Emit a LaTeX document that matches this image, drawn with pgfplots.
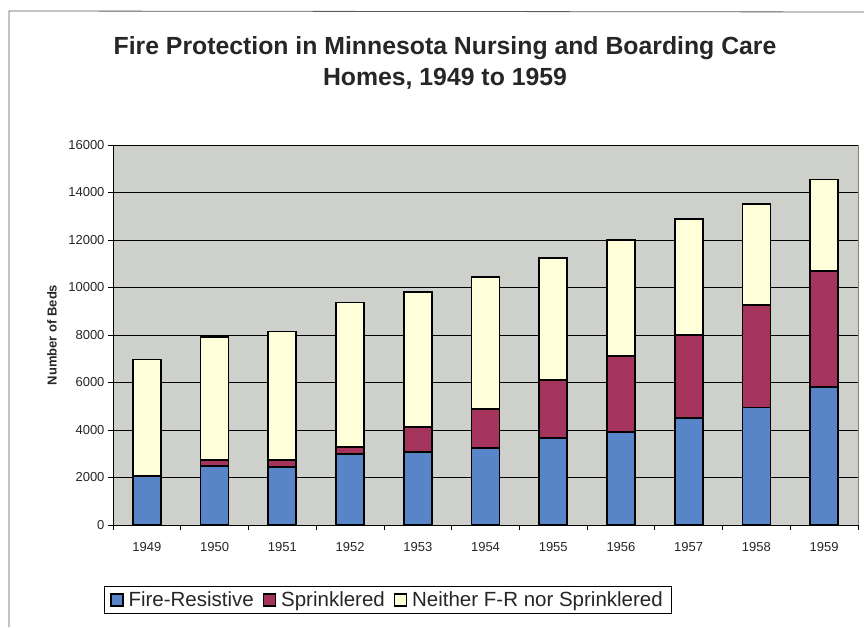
\documentclass[border=0pt]{standalone}
\usepackage{pgfplots}
\pgfplotsset{compat=1.18}
\usepackage{fontspec}
\setmainfont{Liberation Sans}
\definecolor{fr}{RGB}{88,132,200}
\definecolor{sp}{RGB}{165,52,92}
\definecolor{ne}{RGB}{255,255,218}
\definecolor{bg}{RGB}{206,208,204}
\begin{document}
\begin{tikzpicture}[x=1pt,y=1pt]
\path[use as bounding box] (0,0) rectangle (864,627);
\draw[gray!70!black, line width=0.8pt] (9,0) -- (9,616) -- (864,615);
\node[font=\fontsize{24.8}{31}\selectfont\bfseries, align=center, text=black!85] at (445,564) {Fire Protection in Minnesota Nursing and Boarding Care\\Homes, 1949 to 1959};
\begin{axis}[
  at={(113pt,102pt)}, anchor=south west,
  scale only axis, width=745pt, height=380pt,
  ybar stacked, bar width=28pt,
  xmin=-0.5, xmax=10.5, ymin=0, ymax=16000,
  xtick={0,...,10},
  xticklabels={1949,1950,1951,1952,1953,1954,1955,1956,1957,1958,1959},
  minor xtick={-0.5,0.5,...,10.5},
  ytick={0,2000,...,16000},
  scaled y ticks=false,
  yticklabel style={/pgf/number format/1000 sep={}},
  /pgf/number format/assume math mode=true,
  tick label style={font=\fontsize{13}{15}\selectfont, text=black!85},
  xticklabel style={yshift=-9pt},
  ylabel={Number of Beds},
  ylabel style={font=\fontsize{13}{15}\selectfont\bfseries, text=black!85, at={(axis description cs:-0.082,0.5)}, anchor=center},
  axis x line*=bottom, axis y line*=left,
  axis line style={black, line width=1pt},
  axis background/.style={fill=bg, draw=gray},
  ymajorgrids, grid style={black, line width=0.6pt},
  tick align=outside, major tick length=5pt, minor tick length=5pt,
  x tick style={draw=none}, minor x tick style={draw=black, line width=0.8pt},
  y tick style={black, line width=0.8pt},
  legend columns=3,
  legend style={at={(0.3685,-0.197)}, anchor=center, draw=black, line width=0.6pt, font=\fontsize{20.5}{24}\selectfont, text=black!85, inner xsep=6pt, inner ysep=3pt, /tikz/every odd column/.append style={column sep=3pt}, /tikz/every even column/.append style={column sep=7pt}},
  legend cell align=left,
  legend image code/.code={\draw[#1, line width=1.3pt] (0pt,-6pt) rectangle (12pt,6pt);},
]
\addplot[fill=fr, draw=black, line width=1.8pt] coordinates {(0,2050) (1,2500) (2,2450) (3,3000) (4,3070) (5,3250) (6,3650) (7,3900) (8,4500) (9,4950) (10,5800)};
\addplot[fill=sp, draw=black, line width=1.8pt] coordinates {(0,0) (1,250) (2,300) (3,300) (4,1050) (5,1650) (6,2450) (7,3200) (8,3500) (9,4300) (10,4900)};
\addplot[fill=ne, draw=black, line width=1.8pt] coordinates {(0,4920) (1,5150) (2,5400) (3,6070) (4,5700) (5,5550) (6,5150) (7,4900) (8,4900) (9,4250) (10,3850)};
\legend{Fire-Resistive, Sprinklered, Neither F-R nor Sprinklered}
\end{axis}
\end{tikzpicture}
\end{document}
